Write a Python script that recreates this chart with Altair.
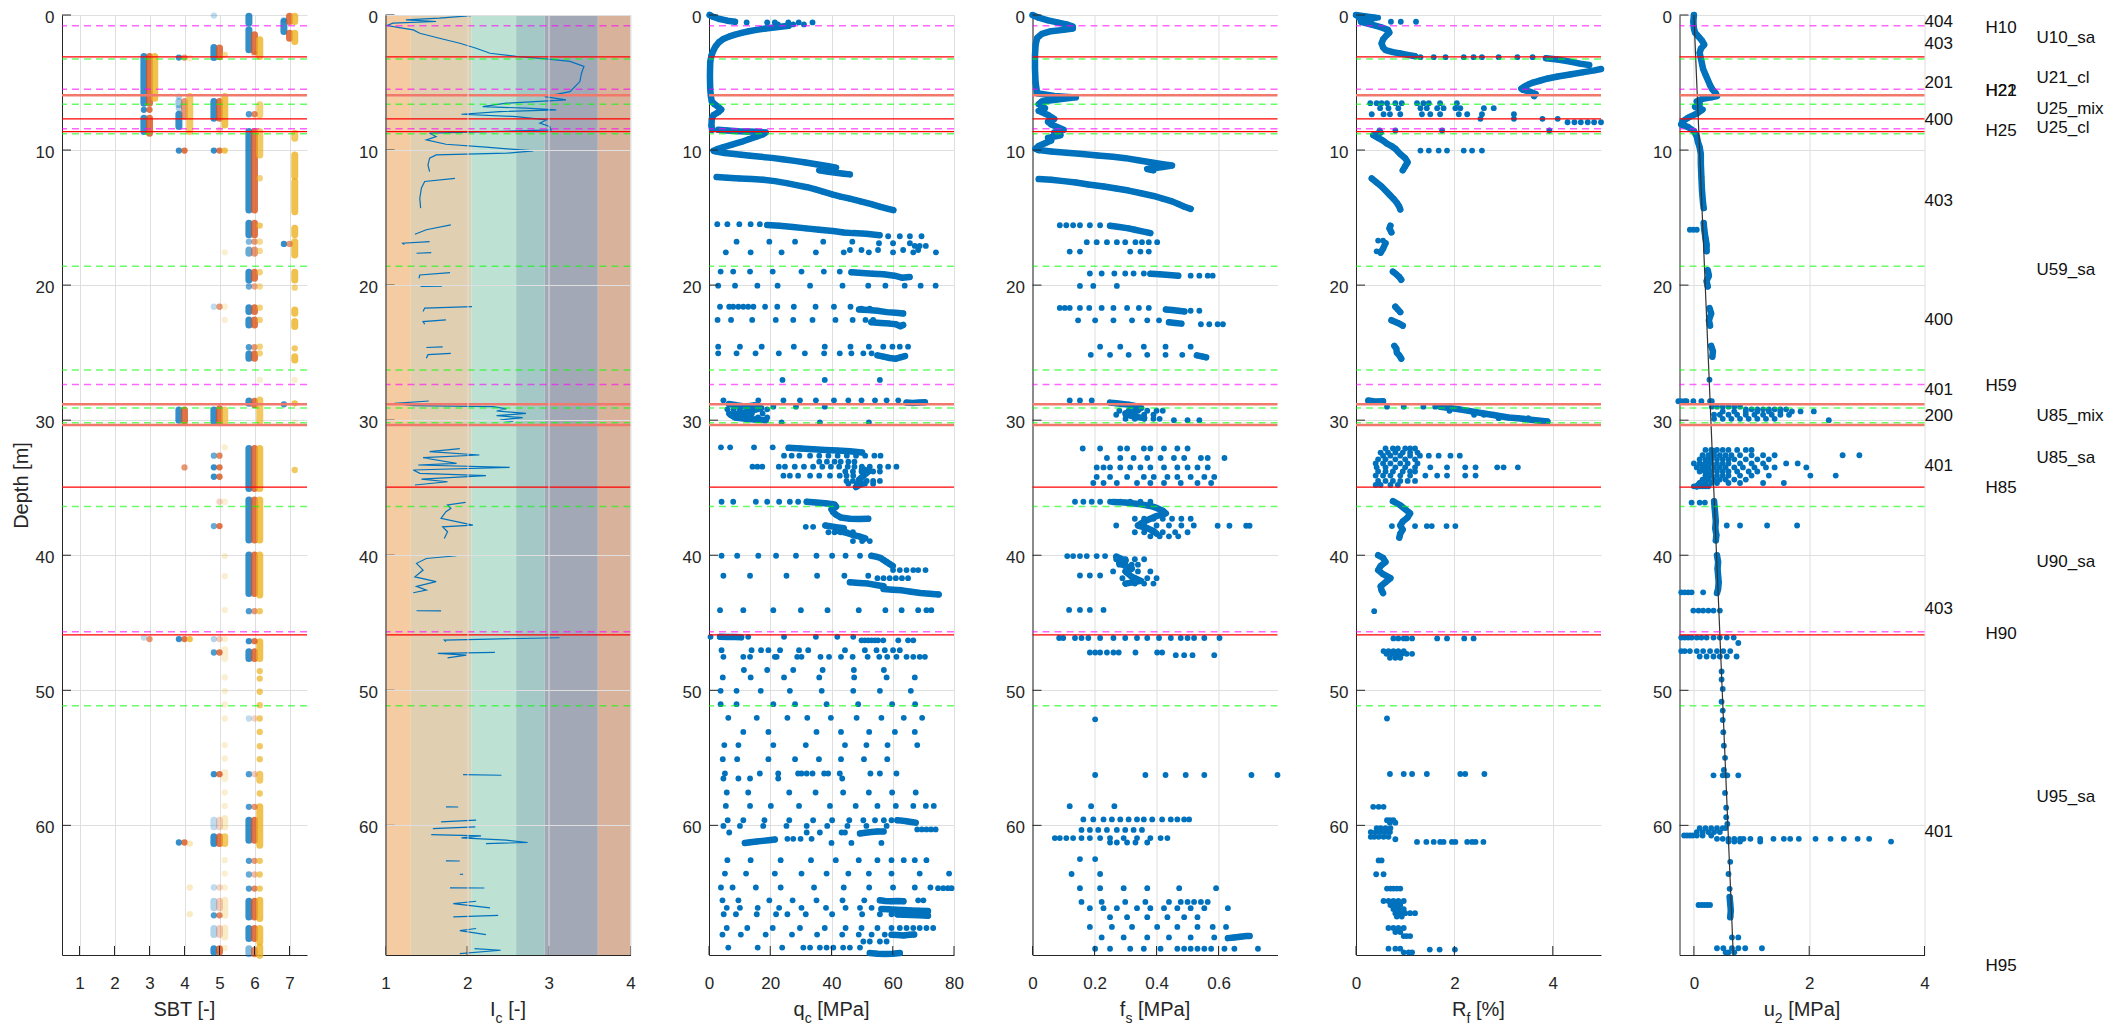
import altair as alt
import pandas as pd

FONT = "Liberation Sans"
TXT = "#262626"
GRID = "#dfdfdf"
BLUE = "#0072BD"
W, H = 245, 940
DMAX = 69.6

depth_ticks = [0, 10, 20, 30, 40, 50, 60]

# ---------------- boundary depths ----------------
magenta_depths = [0.8, 5.5, 8.43, 27.35, 45.67]
red_depths = [3.1, 7.69, 8.63, 34.95, 45.9]
salmon_depths = [5.94, 28.83, 30.36]
green_depths = [3.25, 6.6, 8.8, 18.6, 26.28, 29.1, 30.2, 36.4, 51.15]

# ---------------- SBT (sbt, top, bottom, alpha) ----------------
sbt_blue = [
    (5, 0.04, 0.04, 0.25), (6, 0.1, 0.6, 0.8), (6, 1.1, 2.58, 0.8), (7, 0.36, 0.36, 0.25), (7, 0.48, 1.22, 0.8),
    (3, 3.07, 6.53, 0.8), (3, 7.02, 7.02, 0.8), (3, 7.64, 8.63, 0.8),
    (4, 3.15, 3.15, 0.8), (4, 6.04, 6.04, 0.3), (4, 6.4, 6.65, 0.4), (4, 6.9, 6.9, 0.3), (4, 7.35, 8.26, 0.8), (4, 10.04, 10.04, 0.8),
    (5, 2.41, 3.15, 0.8), (5, 6.41, 7.64, 0.8), (5, 10.04, 10.04, 0.8), (5, 21.6, 21.6, 0.25), (5, 29.25, 30.1, 0.8),
    (5, 32.63, 32.63, 0.6), (5, 33.49, 33.49, 0.8), (5, 34.19, 34.19, 0.8), (4, 29.25, 30.0, 0.8),
    (6, 7.35, 7.35, 0.7), (6, 8.63, 14.43, 0.8), (6, 15.42, 16.28, 0.8), (6, 16.78, 16.78, 0.5), (6, 17.4, 17.64, 0.6),
    (6, 19.05, 19.62, 0.8), (6, 20.1, 20.1, 0.6), (6, 21.67, 21.96, 0.8), (6, 22.58, 22.95, 0.8), (6, 24.6, 24.6, 0.7),
    (6, 25.1, 25.42, 0.8), (6, 28.58, 28.75, 0.8), (6, 32.09, 35.05, 0.8), (6, 35.91, 38.88, 0.8),
    (7, 16.95, 16.95, 0.8), (7, 28.83, 28.83, 0.8),
    (6, 39.99, 42.83, 0.8), (6, 44.14, 44.14, 0.7), (6, 46.36, 46.36, 0.8), (6, 47.15, 47.64, 0.8), (6, 52.09, 52.09, 0.25),
    (6, 56.21, 56.21, 0.7), (6, 58.63, 58.63, 0.7), (6, 59.62, 61.1, 0.8), (6, 62.63, 62.63, 0.7), (6, 63.64, 63.64, 0.6),
    (6, 64.68, 64.68, 0.7), (6, 65.62, 66.78, 0.8), (6, 67.64, 68.38, 0.8), (6, 69.13, 69.5, 0.5),
    (5, 37.84, 37.84, 0.6), (5, 46.21, 46.21, 0.3), (5, 47.2, 47.2, 0.7), (5, 56.21, 56.21, 0.8), (5, 59.62, 60.11, 0.25),
    (5, 60.85, 61.35, 0.8), (5, 64.6, 64.6, 0.25), (5, 65.62, 66.11, 0.3), (5, 66.66, 66.66, 0.7), (5, 67.64, 68.09, 0.3),
    (5, 69.13, 69.37, 0.8), (4, 46.21, 46.21, 0.8), (4, 61.27, 61.27, 0.8), (3, 46.09, 46.09, 0.25),
]
sbt_red = [
    (7, 0.1, 0.48, 0.8), (7, 1.35, 1.72, 0.8), (6, 1.47, 2.7, 0.8), (6, 2.9, 2.9, 0.25),
    (3, 3.07, 6.53, 0.8), (3, 7.02, 7.02, 0.8), (3, 7.64, 8.75, 0.8),
    (4, 3.15, 3.15, 0.6), (4, 6.4, 7.5, 0.6), (4, 10.04, 10.04, 0.8), (4, 29.25, 30.1, 0.8), (4, 33.5, 33.5, 0.6),
    (5, 2.45, 3.1, 0.8), (5, 6.41, 7.64, 0.8), (5, 8.5, 8.5, 0.25), (5, 10.04, 10.04, 0.8), (5, 21.6, 21.6, 0.6),
    (5, 29.15, 30.2, 0.8), (5, 32.63, 32.63, 0.7), (5, 33.49, 33.49, 0.8), (5, 34.19, 34.19, 0.8), (5, 36.04, 36.04, 0.25),
    (6, 7.35, 7.35, 0.7), (6, 8.63, 14.43, 0.8), (6, 15.42, 16.28, 0.8), (6, 16.78, 16.78, 0.6), (6, 17.4, 17.64, 0.6),
    (6, 19.05, 19.5, 0.8), (6, 20.1, 20.1, 0.5), (6, 21.67, 21.96, 0.8), (6, 22.58, 22.95, 0.8), (6, 24.6, 24.6, 0.6),
    (6, 25.1, 25.42, 0.8), (6, 28.6, 28.85, 0.8), (6, 32.09, 35.05, 0.8), (6, 35.91, 38.88, 0.8), (7, 16.95, 16.95, 0.6),
    (6, 39.99, 42.83, 0.8), (6, 44.14, 44.14, 0.6), (6, 46.36, 46.36, 0.8), (6, 47.15, 47.64, 0.8), (6, 52.09, 52.09, 0.25),
    (6, 56.21, 56.21, 0.3), (6, 58.63, 58.63, 0.6), (6, 59.62, 61.1, 0.8), (6, 62.63, 62.63, 0.6), (6, 63.64, 63.64, 0.4),
    (6, 64.68, 64.68, 0.7), (6, 65.62, 66.78, 0.8), (6, 67.64, 68.38, 0.8), (6, 69.25, 69.5, 0.7),
    (5, 37.84, 37.84, 0.8), (5, 46.21, 46.21, 0.3), (5, 47.2, 47.2, 0.8), (5, 56.21, 56.21, 0.8), (5, 59.62, 60.11, 0.25),
    (5, 60.85, 61.35, 0.8), (5, 64.6, 64.6, 0.25), (5, 65.62, 66.11, 0.3), (5, 66.66, 66.66, 0.7), (5, 67.64, 68.09, 0.3),
    (5, 69.13, 69.37, 0.8), (4, 46.21, 46.21, 0.8), (4, 61.27, 61.27, 0.8), (3, 46.21, 46.21, 0.6),
]
sbt_yellow = [
    (7, 0.1, 0.48, 0.8), (7, 1.35, 1.96, 0.8), (6, 1.84, 3.07, 0.8), (3, 3.07, 6.16, 0.8),
    (4, 3.2, 3.2, 0.25), (4, 6.04, 8.63, 0.7),
    (5, 2.95, 2.95, 0.5), (5, 6.04, 8.14, 0.8), (5, 10.04, 10.04, 0.8), (5, 17.57, 17.57, 0.2), (5, 21.6, 21.6, 0.2),
    (5, 22.58, 22.58, 0.2), (5, 29.25, 30.1, 0.7), (5, 32.01, 32.01, 0.2), (5, 36.04, 36.04, 0.2),
    (6, 6.65, 7.4, 0.6), (6, 8.63, 10.36, 0.7), (6, 12.09, 12.09, 0.6), (6, 15.59, 15.59, 0.7), (6, 16.78, 16.78, 0.5),
    (6, 17.47, 17.47, 0.5), (6, 19.05, 19.05, 0.6), (6, 20.1, 20.1, 0.5), (6, 21.67, 21.67, 0.6), (6, 22.58, 22.58, 0.6),
    (6, 24.56, 24.56, 0.6), (6, 25.05, 25.05, 0.6), (6, 27.02, 27.02, 0.2), (6, 28.5, 30.1, 0.7), (6, 32.09, 35.05, 0.8),
    (6, 35.91, 38.88, 0.8),
    (7, 8.75, 9.12, 0.7), (7, 10.36, 11.96, 0.8), (7, 12.33, 14.56, 0.8), (7, 15.79, 16.28, 0.8), (7, 16.78, 17.77, 0.8),
    (7, 19.05, 19.62, 0.8), (7, 20.19, 20.19, 0.6), (7, 21.84, 22.09, 0.8), (7, 22.7, 23.07, 0.8), (7, 24.68, 24.68, 0.7),
    (7, 25.3, 25.54, 0.8), (7, 27.02, 27.02, 0.2), (7, 28.75, 28.75, 0.8), (7, 30.16, 30.16, 0.2), (7, 33.69, 33.69, 0.7),
    (6, 39.99, 42.95, 0.8), (6, 44.14, 44.14, 0.7), (6, 46.41, 47.64, 0.8), (6, 48.58, 48.58, 0.7), (6, 49.13, 49.13, 0.7),
    (6, 50.11, 50.11, 0.7), (6, 51.1, 51.1, 0.7), (6, 52.09, 52.09, 0.7), (6, 53.08, 53.08, 0.7), (6, 54.14, 54.14, 0.7),
    (6, 55.1, 55.1, 0.7), (6, 56.21, 56.66, 0.7), (6, 57.64, 57.64, 0.7), (6, 58.63, 61.47, 0.8), (6, 62.63, 62.63, 0.7),
    (6, 63.64, 63.64, 0.7), (6, 64.68, 64.68, 0.7), (6, 65.54, 66.9, 0.8), (6, 67.64, 68.63, 0.8), (6, 69.0, 69.62, 0.8),
    (5, 40.06, 40.06, 0.2), (5, 41.55, 41.55, 0.2), (5, 44.06, 44.06, 0.2), (5, 46.21, 46.21, 0.2), (5, 47.0, 47.64, 0.2),
    (5, 49.05, 49.05, 0.2), (5, 50.06, 50.06, 0.2), (5, 51.05, 51.05, 0.2), (5, 52.09, 52.09, 0.2), (5, 54.06, 54.06, 0.2),
    (5, 55.05, 55.05, 0.2), (5, 56.09, 56.53, 0.2), (5, 57.57, 57.57, 0.2), (5, 58.56, 58.56, 0.2), (5, 59.5, 60.11, 0.25),
    (5, 60.85, 61.35, 0.7), (5, 62.58, 62.58, 0.2), (5, 63.57, 63.57, 0.2), (5, 64.6, 64.6, 0.2), (5, 65.54, 66.66, 0.25),
    (5, 67.6, 68.26, 0.25), (5, 69.08, 69.08, 0.2),
    (4, 46.21, 46.21, 0.8), (4, 61.35, 61.35, 0.3), (4, 64.6, 64.6, 0.25), (4, 66.58, 66.58, 0.25),
]

# ---------------- Ic bands and profile ----------------
ic_band_lo = [1.0, 1.31, 2.05, 2.6, 2.95, 3.6]
ic_band_hi = [1.31, 2.05, 2.6, 2.95, 3.6, 4.0]
ic_band_col = ["#f5cba2", "#e0cfb1", "#bde2d3", "#a3c8c5", "#a3a8b7", "#d9b29b"]

ic_segs = [
    [(0.04, 2.05), (0.23, 1.66), (0.36, 1.25), (0.48, 1.62), (0.6, 1.09), (0.78, 1.02), (0.93, 1.17), (1.1, 1.34),
     (1.35, 1.42), (1.72, 1.66), (2.09, 1.91), (2.46, 2.11), (2.83, 2.28), (3.07, 2.6), (3.25, 2.97), (3.44, 3.26),
     (3.81, 3.43), (4.31, 3.4), (4.93, 3.38), (5.67, 3.26), (6.04, 2.95), (6.28, 3.21), (6.53, 2.48), (6.78, 2.19),
     (6.9, 2.72), (7.02, 3.09), (7.15, 2.4), (7.35, 1.93), (7.52, 2.6), (7.77, 2.97), (8.01, 2.89), (8.26, 3.01),
     (8.51, 3.03), (8.75, 1.54), (9.0, 1.62), (9.25, 1.5), (9.57, 1.74), (9.79, 2.23), (10.06, 2.81), (10.23, 2.48),
     (10.36, 1.62), (10.6, 1.54), (11.1, 1.52), (11.6, 1.54)],
    [(12.1, 1.85), (12.33, 1.48), (12.8, 1.44), (13.57, 1.42), (14.3, 1.43)],
    [(15.54, 1.8), (15.9, 1.5), (16.23, 1.36)],
    [(16.78, 1.54), (16.9, 1.21), (17.0, 1.23)],
    [(17.6, 1.56), (17.64, 1.38)],
    [(19.07, 1.79), (19.25, 1.42), (19.5, 1.41)],
    [(20.08, 1.69), (20.1, 1.43)],
    [(21.6, 2.06), (21.7, 1.48), (21.96, 1.46)],
    [(22.58, 1.74), (22.7, 1.46), (22.9, 1.48)],
    [(24.58, 1.7), (24.62, 1.5)],
    [(25.05, 1.8), (25.15, 1.52), (25.42, 1.5)],
    [(28.58, 1.53), (28.75, 1.11), (28.93, 1.34), (29.0, 2.32), (29.17, 2.48), (29.32, 2.36), (29.5, 2.72),
     (29.67, 2.36), (29.81, 2.68), (29.99, 2.4), (30.1, 2.56)],
    [(32.1, 1.91), (32.33, 1.54), (32.58, 2.15), (32.78, 1.46), (33.2, 1.87), (33.32, 1.4), (33.5, 2.52),
     (33.69, 1.34), (33.94, 1.42), (34.1, 2.23), (34.36, 1.44), (34.56, 1.76), (34.8, 1.36)],
    [(36.09, 1.98), (36.28, 1.76), (36.53, 1.8), (36.78, 1.74), (37.27, 1.68), (37.77, 2.07), (37.9, 1.7),
     (38.26, 1.76), (38.76, 1.72)],
    [(40.04, 1.87), (40.24, 1.5), (40.6, 1.38), (41.1, 1.46), (41.6, 1.36), (41.96, 1.62), (42.3, 1.38),
     (42.58, 1.5), (42.78, 1.34)],
    [(44.11, 1.38), (44.12, 1.68)],
    [(46.11, 3.13), (46.21, 2.28), (46.29, 1.72), (46.4, 1.74)],
    [(47.2, 2.34), (47.27, 1.64), (47.4, 1.99), (47.6, 1.76)],
    [(56.24, 1.95), (56.29, 2.42)],
    [(58.63, 1.74), (58.64, 1.89)],
    [(59.62, 2.11), (59.74, 1.68)],
    [(60.11, 2.1), (60.24, 1.58)],
    [(60.68, 1.56), (60.78, 2.17), (60.93, 1.93), (61.1, 2.48), (61.27, 2.74), (61.35, 2.23)],
    [(62.63, 1.74), (62.64, 1.91)],
    [(63.62, 1.91), (63.63, 1.95)],
    [(64.63, 1.79), (64.64, 2.21)],
    [(65.62, 2.11), (65.79, 1.83), (66.11, 2.28)],
    [(66.66, 2.38), (66.78, 1.83)],
    [(67.64, 2.11), (67.8, 1.91), (68.09, 2.23)],
    [(69.13, 2.09), (69.25, 2.41), (69.5, 1.91)],
]

# ---------------- qc [MPa] ----------------
qc_curves = [
    [(0.0, 0.2), (0.15, 1.5), (0.3, 3.5), (0.42, 6.0), (0.5, 8.5)],
    [(0.8, 26.0), (0.9, 22.0), (1.0, 18.5), (1.1, 15.5), (1.2, 13.0), (1.3, 11.0), (1.45, 8.5), (1.6, 6.5), (1.8, 4.5),
     (2.0, 3.3), (2.3, 2.2), (2.6, 1.5), (3.0, 0.8), (3.5, 0.4), (4.5, 0.3), (5.5, 0.4), (6.0, 0.6), (6.4, 0.9),
     (6.6, 1.8), (6.8, 3.0), (7.0, 4.0), (7.2, 3.0), (7.4, 1.5), (7.7, 0.9), (8.2, 0.8), (8.5, 1.0)],
    [(8.5, 3.0), (8.55, 6.0), (8.6, 9.5), (8.62, 12.5), (8.65, 15.5), (8.7, 18.5), (8.85, 17.5), (9.0, 15.5),
     (9.2, 13.0), (9.4, 10.5), (9.6, 7.5), (9.8, 4.5), (9.95, 2.5), (10.05, 1.5)],
    [(10.1, 2.0), (10.22, 5.0), (10.28, 7.5), (10.35, 10.5), (10.42, 13.5), (10.5, 17.0), (10.58, 20.5), (10.68, 24.0),
     (10.8, 28.0), (10.92, 31.5), (11.05, 35.0), (11.2, 39.0), (11.3, 41.5), (11.4, 38.0), (11.5, 36.0), (11.6, 39.0),
     (11.75, 44.0), (11.8, 46.0)],
    [(12.0, 2.5), (12.05, 6.0), (12.1, 10.0), (12.15, 14.0), (12.2, 17.7), (12.3, 21.5), (12.45, 25.3), (12.6, 28.5),
     (12.75, 32.0), (12.9, 34.5), (13.1, 37.5), (13.3, 40.5), (13.45, 43.0), (13.6, 46.0), (13.8, 49.5), (14.0, 53.0),
     (14.2, 56.0), (14.35, 58.5), (14.45, 60.2)],
    [(15.55, 19.0), (15.6, 23.0), (15.7, 27.4), (15.8, 31.7), (15.9, 36.0), (16.0, 40.5), (16.1, 44.0), (16.15, 47.0),
     (16.2, 51.3), (16.3, 55.7)],
    [(19.05, 46.5), (19.1, 50.0), (19.15, 53.5), (19.2, 57.0), (19.3, 60.5), (19.45, 63.0), (19.4, 65.5)],
    [(21.8, 49.0), (21.85, 52.0), (21.9, 55.0), (22.0, 58.0), (22.05, 61.0), (22.1, 63.4)],
    [(22.75, 53.0), (22.8, 56.0), (22.85, 59.0), (22.9, 61.0), (23.05, 62.5), (22.95, 63.4)],
    [(25.2, 55.0), (25.3, 57.0), (25.4, 59.0), (25.45, 61.0), (25.35, 62.5), (25.25, 64.0)],
    [(28.7, 64.5), (28.72, 66.5), (28.7, 68.5), (28.68, 70.5)],
    [(28.8, 6.5), (28.9, 9.0), (29.0, 12.0), (28.9, 15.0), (29.1, 17.0), (29.3, 14.0), (29.5, 10.0), (29.6, 7.0),
     (29.8, 8.5), (29.9, 12.0), (29.95, 15.0), (30.0, 18.5)],
    [(32.05, 26.0), (32.1, 30.0), (32.15, 34.0), (32.2, 38.0), (32.25, 42.0), (32.3, 46.0), (32.4, 50.0)],
    [(33.6, 50.0), (33.8, 52.0), (34.1, 50.5), (34.4, 49.0), (34.7, 50.0), (34.95, 48.0)],
    [(36.04, 31.9), (36.1, 35.0), (36.15, 38.0), (36.25, 41.0), (36.4, 41.5), (36.6, 40.0), (36.8, 40.5), (37.0, 41.5),
     (37.2, 43.0), (37.3, 46.0), (37.32, 49.0), (37.3, 52.0)],
    [(37.8, 38.0), (37.9, 41.0), (38.0, 44.0), (38.2, 42.0), (38.35, 45.0), (38.5, 47.0), (38.6, 49.0), (38.75, 51.0)],
    [(40.04, 53.0), (40.1, 54.5), (40.2, 56.0), (40.35, 57.0), (40.5, 58.0), (40.65, 59.0), (40.8, 60.0)],
    [(42.0, 46.0), (42.05, 49.0), (42.1, 52.0), (42.2, 54.5), (42.3, 57.0)],
    [(42.5, 57.0), (42.55, 60.0), (42.6, 63.0), (42.7, 66.0), (42.8, 69.0), (42.85, 72.0), (42.9, 75.0)],
    [(46.04, 3.6), (46.05, 6.0), (46.06, 8.5), (46.08, 10.5)],
    [(59.62, 61.5), (59.65, 63.0), (59.7, 64.5), (59.75, 66.0), (59.8, 67.5)],
    [(60.6, 49.3), (60.55, 51.0), (60.5, 53.0), (60.45, 55.0), (60.45, 57.0)],
    [(61.3, 11.7), (61.25, 13.5), (61.2, 15.5), (61.15, 17.5), (61.1, 19.5), (61.05, 21.5)],
    [(65.55, 55.8), (65.6, 57.5), (65.62, 59.5), (65.6, 61.5), (65.62, 63.5)],
    [(66.2, 56.3), (66.22, 58.5), (66.25, 61.0), (66.27, 63.5), (66.3, 66.0), (66.32, 68.5), (66.35, 71.5)],
    [(66.6, 61.5), (66.62, 63.5), (66.63, 66.0), (66.65, 68.5), (66.7, 71.5)],
    [(68.1, 59.6), (68.12, 61.5), (68.15, 63.5), (68.1, 65.5), (68.08, 67.0)],
    [(69.45, 52.5), (69.5, 55.0), (69.52, 57.5), (69.5, 60.0), (69.45, 62.3)],
]
qc_rows = [
    (0.55, [12.3, 19.0, 21.5, 25.9, 29.3, 33.8]), (0.7, [22.5, 27.5, 31.0]),
    (15.49, [2.7, 6.0, 9.9, 13.6, 16.6]), (16.38, [58.5, 62.3, 65.6, 69.4]),
    (16.78, [9.0, 19.7, 28.1, 37.3, 46.8]), (16.9, [55.5, 60.1, 65.6]), (17.1, [67.2, 68.8, 70.8]),
    (17.4, [46.0, 49.8, 55.2, 63.4, 68.3]), (17.57, [5.5, 13.6, 23.7, 34.9, 44.0, 52.2, 60.1, 66.7, 74.1]),
    (19.0, [3.8, 7.9, 13.4, 20.8, 30.2, 37.5, 42.7]),
    (20.04, [3.0, 8.5, 15.8, 22.4, 33.0, 43.6, 52.0, 57.6, 63.9, 69.1, 74.0]),
    (21.6, [3.6, 6.6, 7.9, 9.6, 11.2, 12.8, 14.5, 18.3, 22.3, 27.7, 34.8, 40.8, 46.2]), (21.75, [49.8, 52.5]),
    (22.58, [2.8, 7.2, 14.1, 21.8, 27.5, 33.8, 41.3, 46.9, 51.1, 53.6]),
    (24.56, [3.0, 10.1, 17.2, 27.7, 37.8, 46.2, 52.2, 56.9, 59.9, 62.3, 65.0]),
    (25.05, [3.0, 9.0, 15.2, 22.8, 31.3, 37.6, 42.7, 46.5, 50.4, 53.1]),
    (27.02, [24.0, 37.8, 55.8]),
    (28.53, [4.7, 16.1, 24.3, 29.7, 34.9, 40.8, 45.5, 49.8, 54.2, 58.0, 61.8]),
    (29.0, [21.0, 28.4, 37.8]), (30.16, [23.7, 36.2, 52.2]),
    (29.2, [6.0, 8.0, 10.0, 19.0]), (29.5, [6.5, 12.0, 14.0, 17.5]), (29.8, [10.0, 13.0, 16.0, 19.0]),
    (32.01, [3.9, 6.9, 14.7, 20.8]),
    (32.63, [24.5, 27.0, 29.5, 33.0, 36.0, 39.0, 42.0, 45.0, 48.0, 51.0, 54.0, 56.0]),
    (33.07, [36.0, 38.5, 41.0, 43.0, 45.5, 47.5]),
    (33.44, [14.2, 15.8, 17.4, 22.8, 24.8, 28.0, 31.0, 34.0, 37.0, 39.8, 42.5, 45.3, 47.5, 49.9, 52.5, 55.8, 58.5, 61.2]),
    (33.8, [44.5, 47.0, 49.8, 52.0, 53.6, 55.8]),
    (34.11, [24.3, 26.4, 29.1, 33.0, 36.0, 39.5, 42.7, 44.9, 47.1]),
    (34.5, [44.9, 47.0, 49.3, 51.5, 53.6, 55.8]), (34.7, [45.5, 48.3, 50.9, 53.6]),
    (36.04, [4.1, 7.9, 15.3, 19.0, 22.9, 26.4, 29.1]),
    (37.9, [31.6, 34.0]), (38.3, [39.0, 41.0, 43.0, 45.0, 47.0]), (38.95, [47.0, 50.0, 52.5]),
    (40.04, [4.1, 9.2, 16.1, 21.9, 28.4, 35.1, 40.2, 44.6, 49.3]),
    (41.1, [60.1, 62.3, 64.5, 66.7, 68.3, 70.7]),
    (41.52, [4.7, 13.4, 25.3, 35.3, 44.2, 52.0]), (41.7, [55.0, 57.0, 59.0, 61.0, 63.0, 65.0]),
    (44.07, [3.6, 11.2, 21.0, 30.0, 38.7, 48.9, 57.6, 62.9, 68.3, 71.0, 72.6]),
    (46.04, [0.5, 12.8, 24.5, 34.9, 41.9, 47.1]),
    (46.3, [49.8, 50.9, 52.0, 53.1, 54.2, 55.2, 56.9, 61.8, 65.0, 66.7]),
    (47.03, [4.1, 13.9, 17.0, 19.4, 23.2, 29.4, 32.4, 44.4, 50.9, 54.7, 57.4, 60.1, 62.3]),
    (47.52, [4.7, 11.2, 13.4, 21.5, 22.1, 28.8, 30.2, 36.4, 39.2, 43.1, 46.9, 51.8, 55.6, 58.2, 61.2, 64.5, 66.7,
             68.8, 70.5]),
    (48.5, [11.4, 19.0, 27.5, 37.1, 47.3, 57.1]),
    (49.05, [4.5, 13.6, 24.5, 36.0, 47.4, 58.0, 67.2]),
    (50.04, [3.8, 9.0, 16.9, 26.4, 36.8, 47.1, 55.8, 65.9]),
    (51.03, [3.8, 9.0, 21.0, 28.1, 38.4, 48.7, 59.8, 67.3]),
    (52.04, [6.3, 15.6, 25.6, 32.1, 39.8, 48.2, 56.3, 63.6, 69.6]),
    (53.08, [11.2, 19.4, 35.1, 43.1, 52.3, 60.7, 67.2]),
    (54.06, [5.0, 9.6, 21.0, 31.6, 44.4, 51.4, 58.3, 68.0]),
    (55.1, [4.5, 9.2, 19.4, 28.1, 35.9, 43.1, 50.6, 58.2]),
    (56.16, [5.2, 16.6, 22.6, 29.1, 30.2, 31.9, 33.8, 37.6, 38.9, 42.7, 52.7, 55.8, 61.2]),
    (56.53, [4.7, 9.6, 13.4, 22.6, 43.5]),
    (57.57, [5.8, 12.8, 26.2, 34.8, 43.8, 52.2, 59.8, 67.5]),
    (58.56, [5.5, 13.4, 20.2, 29.4, 39.5, 47.9, 55.0, 61.0, 66.7, 70.8, 73.4]),
    (59.62, [6.1, 11.2, 18.1, 26.2, 34.0, 40.2, 45.8, 50.4, 54.2, 57.1, 59.6]),
    (60.04, [4.7, 10.1, 17.7, 25.3, 31.9, 38.6, 45.2, 51.4, 58.0]), (60.3, [68.0, 69.5, 71.0, 72.5, 74.0]),
    (60.53, [6.6, 31.9, 36.2, 43.3, 44.4]), (61.0, [25.6, 27.5, 29.9, 33.5]), (61.3, [40.0, 46.5, 56.3]),
    (62.58, [6.0, 13.6, 23.4, 33.3, 41.4, 48.9, 55.0, 59.6, 63.6, 67.2, 71.0]),
    (63.57, [5.2, 12.1, 21.5, 30.2, 38.4, 45.5, 52.2, 59.6, 68.8, 78.4]),
    (64.6, [3.9, 7.7, 15.3, 23.4, 34.3, 44.0, 52.3, 60.1, 67.2, 72.3]), (64.65, [74.8, 76.5, 78.0, 79.2]),
    (65.55, [4.4, 9.6, 19.7, 27.3, 35.1, 43.6, 50.7, 68.3, 70.0]),
    (66.11, [5.8, 10.1, 15.9, 22.9, 30.2, 38.2, 44.6, 49.3, 53.1]),
    (66.58, [4.8, 8.8, 15.6, 21.9, 25.6, 31.6, 40.2, 50.0, 55.8, 59.6]),
    (67.6, [5.8, 12.5, 20.8, 29.7, 37.8, 44.6, 49.8, 55.0, 59.6, 62.3, 64.5, 66.7, 68.8, 71.0, 73.2]),
    (68.09, [4.4, 10.4, 18.5, 27.1, 35.3, 43.5, 48.9, 53.1, 57.4]), (68.6, [50.4, 52.5, 55.8, 58.0]),
    (69.05, [6.3, 15.9, 23.9, 30.8, 33.0, 36.2, 38.4, 40.6, 43.8, 46.0, 49.3]),
]

# ---------------- fs [MPa] ----------------
fs_curves = [
    [(0.0, 0.0), (0.2, 0.02), (0.4, 0.05), (0.55, 0.08), (0.7, 0.11), (0.85, 0.13), (1.0, 0.13), (1.1, 0.1), (1.2, 0.06),
     (1.4, 0.03), (1.7, 0.015), (2.2, 0.01), (3.0, 0.008), (4.0, 0.008), (5.0, 0.01), (5.8, 0.015), (6.0, 0.07),
     (6.1, 0.14), (6.25, 0.08), (6.4, 0.03), (6.6, 0.02), (6.9, 0.04), (7.1, 0.02), (7.4, 0.05), (7.7, 0.07),
     (7.9, 0.05), (8.1, 0.06), (8.3, 0.08), (8.5, 0.1), (8.7, 0.07), (8.9, 0.09), (9.1, 0.05), (9.3, 0.06),
     (9.5, 0.04), (9.7, 0.02), (9.9, 0.01), (10.0, 0.02)],
    [(10.0, 0.02), (10.1, 0.06), (10.2, 0.11), (10.3, 0.16), (10.4, 0.21), (10.5, 0.26), (10.6, 0.3), (10.75, 0.34),
     (10.9, 0.38), (11.05, 0.42), (11.15, 0.45), (11.25, 0.42), (11.4, 0.37), (11.5, 0.39)],
    [(12.15, 0.02), (12.2, 0.06), (12.3, 0.1), (12.4, 0.14), (12.55, 0.18), (12.7, 0.23), (12.85, 0.27), (13.0, 0.31),
     (13.2, 0.35), (13.4, 0.39), (13.6, 0.42), (13.8, 0.45), (14.0, 0.47), (14.2, 0.49), (14.35, 0.51)],
    [(15.6, 0.25), (15.7, 0.28), (15.8, 0.31), (15.9, 0.33), (16.0, 0.35), (16.1, 0.37), (16.15, 0.38)],
    [(19.15, 0.38), (19.2, 0.41), (19.25, 0.44), (19.3, 0.47)],
    [(21.8, 0.43), (21.85, 0.45), (21.9, 0.47), (21.95, 0.49)],
    [(22.75, 0.44), (22.8, 0.46), (22.85, 0.48)],
    [(25.2, 0.53), (25.3, 0.55), (25.35, 0.56)],
    [(28.7, 0.25), (28.75, 0.27), (28.8, 0.29), (28.85, 0.31), (28.95, 0.33), (29.1, 0.35), (29.3, 0.33), (29.5, 0.3),
     (29.7, 0.32), (29.85, 0.36)],
    [(36.05, 0.26), (36.1, 0.3), (36.2, 0.34), (36.35, 0.38), (36.5, 0.4), (36.7, 0.42), (36.9, 0.43), (37.1, 0.4),
     (37.3, 0.38), (37.5, 0.36), (37.8, 0.34), (38.0, 0.37), (38.2, 0.39), (38.4, 0.4)],
    [(40.1, 0.27), (40.2, 0.28), (40.4, 0.3), (40.6, 0.28), (40.8, 0.3), (41.0, 0.32), (41.2, 0.3), (41.6, 0.32),
     (41.9, 0.35), (42.1, 0.3)],
    [(68.35, 0.63), (68.3, 0.65), (68.25, 0.67), (68.2, 0.69), (68.2, 0.7)],
]
fs_rows = [
    (15.57, [0.088, 0.109, 0.131, 0.153, 0.185, 0.218]),
    (16.82, [0.175, 0.207, 0.24, 0.272, 0.299, 0.332, 0.353, 0.375, 0.402]),
    (17.52, [0.12, 0.153, 0.315, 0.348, 0.375]),
    (19.14, [0.185, 0.223, 0.264, 0.299, 0.326, 0.359]), (19.3, [0.51, 0.538, 0.565, 0.581]),
    (20.06, [0.153, 0.196, 0.272]),
    (21.69, [0.088, 0.104, 0.12, 0.153, 0.183, 0.223, 0.261, 0.305, 0.343, 0.375]), (21.9, [0.51, 0.538]),
    (22.61, [0.147, 0.202, 0.261, 0.321, 0.37, 0.408]), (22.9, [0.543, 0.57, 0.597, 0.614]),
    (24.56, [0.218, 0.283, 0.359, 0.429, 0.51]),
    (25.16, [0.188, 0.25, 0.31, 0.37, 0.429, 0.483]),
    (28.54, [0.12, 0.153, 0.191]),
    (29.3, [0.28, 0.31, 0.34, 0.37, 0.4, 0.42]), (29.6, [0.27, 0.3, 0.33, 0.36, 0.39]),
    (29.9, [0.3, 0.33, 0.36, 0.39, 0.41]), (30.0, [0.456, 0.5, 0.538]),
    (32.1, [0.162, 0.218, 0.283, 0.305, 0.359, 0.38, 0.424, 0.467, 0.5]),
    (32.8, [0.24, 0.283, 0.326, 0.37, 0.413, 0.456, 0.489, 0.543, 0.565, 0.619]),
    (33.5, [0.207, 0.229, 0.25, 0.283, 0.315, 0.348, 0.38, 0.424, 0.467, 0.5, 0.532, 0.565]),
    (34.2, [0.207, 0.25, 0.305, 0.359, 0.391, 0.435, 0.467, 0.51, 0.554, 0.586]),
    (34.65, [0.196, 0.229, 0.272, 0.337, 0.38, 0.424, 0.478, 0.532, 0.576]),
    (36.04, [0.137, 0.164, 0.191, 0.218, 0.25, 0.283, 0.315, 0.348, 0.38]),
    (37.3, [0.33, 0.36, 0.39, 0.42, 0.45, 0.48, 0.51]), (37.8, [0.27, 0.36, 0.4, 0.44, 0.48, 0.52]),
    (38.3, [0.33, 0.36, 0.39, 0.42, 0.46, 0.5]), (38.6, [0.38, 0.41, 0.44, 0.47]),
    (37.82, [0.597, 0.635, 0.689, 0.7]),
    (40.06, [0.112, 0.131, 0.153, 0.175, 0.207, 0.234]),
    (40.3, [0.27, 0.3, 0.33, 0.36]), (40.7, [0.28, 0.3, 0.32, 0.34]), (41.2, [0.26, 0.3, 0.34, 0.38]),
    (41.7, [0.29, 0.33, 0.37, 0.4]), (42.1, [0.3, 0.33, 0.36, 0.39]), (41.5, [0.153, 0.185, 0.218]),
    (44.05, [0.118, 0.153, 0.185, 0.229]),
    (46.13, [0.086, 0.099, 0.137, 0.158, 0.18, 0.218, 0.261, 0.299, 0.337, 0.37, 0.408, 0.446, 0.478, 0.5, 0.521,
             0.554, 0.603]),
    (47.2, [0.185, 0.202, 0.218, 0.24, 0.261, 0.278, 0.332, 0.402, 0.418]), (47.4, [0.462, 0.489, 0.516, 0.586]),
    (52.15, [0.202]),
    (56.27, [0.202, 0.364, 0.429, 0.494, 0.554, 0.706, 0.79]),
    (58.58, [0.12, 0.189, 0.264]),
    (59.56, [0.164, 0.196, 0.229, 0.256, 0.283, 0.31, 0.337, 0.359, 0.386, 0.418, 0.446, 0.467, 0.489, 0.505]),
    (60.34, [0.158, 0.185, 0.212, 0.24, 0.272, 0.299, 0.326, 0.353]),
    (60.94, [0.072, 0.088, 0.109, 0.131, 0.158, 0.185, 0.218, 0.25, 0.294, 0.337, 0.38, 0.413, 0.435]),
    (61.27, [0.25, 0.272, 0.305, 0.332, 0.37]),
    (62.5, [0.153, 0.202]), (63.6, [0.126, 0.218]),
    (64.65, [0.153, 0.218, 0.294, 0.37, 0.473, 0.592]),
    (65.67, [0.158, 0.223, 0.299, 0.364, 0.44, 0.478, 0.5, 0.521, 0.543, 0.565]),
    (66.13, [0.185, 0.229, 0.272, 0.337, 0.38, 0.424, 0.467, 0.51, 0.554, 0.63]),
    (66.8, [0.25, 0.305, 0.37, 0.435, 0.489, 0.532]),
    (67.52, [0.185, 0.256, 0.321, 0.402, 0.467, 0.532, 0.581, 0.624]),
    (68.3, [0.223, 0.294, 0.37, 0.44, 0.51, 0.586]),
    (69.14, [0.202, 0.25, 0.315, 0.359, 0.413, 0.467, 0.489, 0.51, 0.532, 0.554, 0.576, 0.619, 0.651, 0.727]),
]

# ---------------- Rf [%] ----------------
rf_curves = [
    [(0.0, 0.0), (0.1, 0.2), (0.2, 0.4), (0.3, 0.3), (0.5, 0.1), (0.7, 0.3), (0.9, 0.5), (1.1, 0.65), (1.3, 0.68),
     (1.5, 0.62), (1.8, 0.55), (2.1, 0.52), (2.4, 0.55), (2.6, 0.6), (2.75, 0.75), (2.85, 0.9), (2.95, 1.05),
     (3.05, 1.2)],
    [(3.2, 3.86), (3.3, 4.1), (3.45, 4.35), (3.6, 4.55), (3.7, 4.74)],
    [(4.0, 4.98), (4.1, 4.85), (4.25, 4.6), (4.4, 4.35), (4.55, 4.1), (4.7, 3.9), (4.85, 3.75), (5.0, 3.6),
     (5.15, 3.5), (5.3, 3.42), (5.45, 3.36), (5.55, 3.4), (5.7, 3.55), (5.85, 3.65), (6.0, 3.62)],
    [(8.7, 0.5), (8.9, 0.35), (9.1, 0.45), (9.3, 0.55), (9.5, 0.62), (9.7, 0.72), (9.9, 0.8), (10.1, 0.85),
     (10.3, 0.9), (10.6, 1.0), (10.9, 1.05), (11.2, 1.0), (11.5, 0.95)],
    [(12.1, 0.32), (12.4, 0.42), (12.7, 0.52), (13.0, 0.6), (13.3, 0.68), (13.6, 0.76), (13.9, 0.83), (14.2, 0.88),
     (14.4, 0.9)],
    [(15.6, 0.7), (15.8, 0.68), (16.1, 0.72)],
    [(16.9, 0.6), (17.3, 0.55), (17.6, 0.5)],
    [(19.0, 0.75), (19.2, 0.82), (19.4, 0.88), (19.6, 0.92)],
    [(21.6, 0.8), (21.8, 0.85), (22.0, 0.9)],
    [(22.6, 0.72), (22.8, 0.85), (23.0, 0.95)],
    [(24.5, 0.78), (24.7, 0.82), (25.0, 0.83), (25.2, 0.88), (25.45, 0.92)],
    [(28.55, 0.25), (28.6, 0.35), (28.62, 0.45), (28.6, 0.55)],
    [(29.0, 1.71), (29.1, 1.9), (29.2, 2.1), (29.35, 2.35), (29.5, 2.6), (29.65, 2.85), (29.8, 3.1), (29.9, 3.4),
     (30.0, 3.65), (30.1, 3.89)],
    [(36.0, 0.75), (36.3, 0.9), (36.6, 1.0), (36.9, 1.1), (37.2, 1.05), (37.5, 0.95), (37.8, 0.9), (38.1, 0.95),
     (38.4, 0.9), (38.7, 0.88)],
    [(40.0, 0.45), (40.2, 0.55), (40.5, 0.6), (40.8, 0.5), (41.1, 0.45), (41.4, 0.55), (41.7, 0.7), (42.0, 0.6),
     (42.3, 0.5), (42.6, 0.52), (42.8, 0.55)],
]
rf_rows = [
    (0.5, [0.71, 0.91, 1.22]), (0.2, [0.05, 0.15, 0.25, 0.35, 0.45]),
    (3.12, [1.31, 1.58, 1.82, 2.19, 2.39, 2.56, 2.9, 3.28, 3.59]),
    (6.53, [0.29, 0.42, 0.52, 0.63, 0.8, 0.93, 1.24, 1.37, 1.48, 1.71, 2.05]),
    (6.9, [0.49, 0.66, 0.86, 1.31, 1.44, 1.65, 1.78, 2.02, 2.12, 2.6, 2.8]),
    (7.35, [0.32, 0.56, 0.69, 0.9, 1.34, 1.51, 1.71, 2.09, 2.26, 2.56, 3.21]),
    (7.69, [2.53, 3.21, 3.79, 4.1]), (7.94, [4.3, 4.44, 4.57, 4.71, 4.84, 4.98]),
    (8.55, [0.48, 0.8, 1.75, 3.93]),
    (10.04, [1.31, 1.48, 1.68, 1.85, 2.19, 2.36, 2.56]),
    (16.7, [0.45, 0.55]), (17.5, [0.42, 0.5]),
    (29.0, [0.63, 0.97, 1.37, 1.61, 1.85]), (29.3, [1.9, 2.3]), (29.6, [2.4, 2.6, 2.8]), (29.85, [2.9, 3.3, 3.5]),
    (32.1, [0.6, 0.75, 0.85, 1.0, 1.1, 1.2]), (32.4, [0.5, 0.65, 0.8, 0.95, 1.1, 1.25]),
    (32.63, [0.55, 0.7, 0.9, 1.1, 1.3, 1.48, 1.68, 1.92, 2.11]), (32.9, [0.45, 0.6, 0.8, 1.0, 1.2]),
    (33.2, [0.4, 0.55, 0.7, 0.9, 1.05, 1.25]),
    (33.49, [0.42, 0.6, 0.8, 1.0, 1.2, 1.51, 1.85, 2.22, 2.43, 2.87, 3.0, 3.29]),
    (33.8, [0.45, 0.6, 0.75, 0.95, 1.1, 1.2]),
    (34.1, [0.4, 0.55, 0.7, 0.9, 1.1, 1.41, 1.65, 1.85, 2.22, 2.43]),
    (34.5, [0.45, 0.6, 0.75, 0.9, 1.05, 1.2]), (34.8, [0.4, 0.5, 0.7, 0.85]),
    (37.84, [0.73, 1.2, 1.44, 1.54, 1.84, 2.02]),
    (44.14, [0.37]),
    (46.16, [0.76, 0.86, 0.97, 1.03, 1.14, 1.65, 1.85, 2.2, 2.39]),
    (47.1, [0.56, 0.66, 0.76, 0.86, 0.97]), (47.3, [0.62, 0.73, 0.83, 0.93, 1.03, 1.14]), (47.6, [0.69, 0.8, 0.9]),
    (52.09, [0.63]),
    (56.2, [0.69, 0.97, 1.14, 1.44, 2.12, 2.22, 2.61]),
    (58.63, [0.35, 0.46, 0.56]),
    (59.62, [0.63, 0.69, 0.76]), (59.8, [0.69, 0.8]),
    (60.2, [0.42, 0.5, 0.6, 0.7]), (60.5, [0.3, 0.4, 0.5, 0.6, 0.69]), (60.85, [0.3, 0.37, 0.46, 0.56, 0.66]),
    (61.03, [0.8]),
    (61.23, [1.24, 1.43, 1.58, 1.71, 1.78, 1.95, 2.02, 2.26, 2.36, 2.43, 2.59]),
    (62.6, [0.46, 0.52]), (63.62, [0.41, 0.56]),
    (64.68, [0.63, 0.7, 0.76, 0.83, 0.9]),
    (65.6, [0.56, 0.66, 0.76, 0.86, 0.97]), (65.9, [0.7, 0.8, 0.9]), (66.2, [0.76, 0.86, 0.97]),
    (66.5, [0.8, 0.9, 1.0, 1.1, 1.2]), (66.75, [0.83, 0.93]),
    (67.6, [0.66, 0.76, 0.86, 0.97]), (67.9, [0.8, 0.9]), (68.2, [0.97, 1.03, 1.1]),
    (69.13, [0.66, 0.8, 0.9]), (69.4, [0.97, 1.07, 1.14]), (69.2, [1.5, 1.7, 2.01]),
]

# ---------------- u2 [MPa] ----------------
u2_curves = [
    [(0.0, 0.0), (0.5, -0.01), (1.0, 0.0), (1.3, 0.02), (1.6, 0.08), (1.9, 0.14), (2.2, 0.18), (2.5, 0.12), (2.8, 0.1),
     (3.2, 0.12), (3.6, 0.14), (4.0, 0.16), (4.4, 0.2), (4.8, 0.24), (5.2, 0.28), (5.5, 0.32), (5.8, 0.38),
     (6.0, 0.4), (6.1, 0.3), (6.2, 0.15), (6.4, 0.05), (6.6, 0.1), (6.8, 0.02), (7.0, 0.15), (7.3, 0.05),
     (7.6, -0.1), (7.9, -0.2), (8.1, -0.22), (8.3, -0.1), (8.6, 0.0), (9.0, 0.05), (9.4, 0.07), (9.8, 0.1),
     (10.3, 0.12), (11.0, 0.12), (12.0, 0.13), (13.0, 0.14), (14.0, 0.16), (14.3, 0.17)],
    [(15.4, 0.17), (15.9, 0.18), (16.5, 0.2), (17.0, 0.22), (17.5, 0.22)],
    [(18.9, 0.24), (19.3, 0.26), (19.7, 0.22), (20.1, 0.24)],
    [(21.7, 0.27), (22.1, 0.3), (22.6, 0.26), (23.0, 0.28)],
    [(24.5, 0.3), (24.9, 0.33), (25.3, 0.32)],
    [(32.3, 0.35), (32.6, 0.3), (32.9, 0.25), (33.2, 0.2), (33.5, 0.15), (33.8, 0.2), (34.1, 0.25), (34.4, 0.2),
     (34.7, 0.1), (34.9, 0.05)],
    [(36.0, 0.35), (36.5, 0.36), (37.0, 0.37), (37.5, 0.38), (38.0, 0.37), (38.5, 0.39), (38.9, 0.38)],
    [(40.0, 0.4), (40.5, 0.42), (41.0, 0.41), (41.5, 0.42), (42.0, 0.43), (42.5, 0.42), (42.8, 0.4)],
    [(65.3, 0.62), (65.8, 0.63), (66.3, 0.64), (66.8, 0.63)],
]
u2_rows = [
    (15.9, [-0.07, -0.01, 0.05]), (27.0, [0.27]),
    (28.6, [-0.27, -0.22, -0.16, -0.13, -0.01, 0.13, 0.28, 0.31]),
    (29.0, [0.31, 0.4, 0.5, 0.6, 0.7, 0.8]), (29.2, [0.9, 1.0, 1.1, 1.2, 1.3, 1.4, 1.5, 1.6]),
    (29.35, [0.5, 0.7, 0.9, 1.1, 1.3, 1.5, 1.7, 1.85, 2.08]),
    (29.6, [0.35, 0.45, 0.6, 0.75, 0.9, 1.05, 1.2, 1.35, 1.5, 1.65]),
    (29.9, [0.35, 0.5, 0.65, 0.8, 0.95, 1.1, 1.25, 1.4]), (30.0, [2.34]),
    (32.2, [0.2, 0.3, 0.4, 0.5, 0.6, 0.75, 0.9, 1.0]),
    (32.6, [0.15, 0.25, 0.35, 0.45, 0.55, 0.65, 0.8, 1.0, 1.2, 1.4, 2.58, 2.87]),
    (32.9, [0.1, 0.2, 0.3, 0.4, 0.5, 0.6, 0.7, 0.9, 1.1, 1.3]),
    (33.2, [0.0, 0.1, 0.2, 0.3, 0.4, 0.5, 0.6, 0.8, 1.0, 1.2, 1.6, 1.8]),
    (33.5, [0.05, 0.15, 0.25, 0.35, 0.45, 0.55, 0.7, 0.85, 1.05, 1.25, 1.4, 1.95]),
    (33.8, [0.1, 0.2, 0.3, 0.4, 0.5, 0.6, 0.75, 0.95, 1.1]),
    (34.1, [0.2, 0.3, 0.4, 0.5, 0.6, 0.8, 1.0, 1.3, 2.02, 2.46]),
    (34.4, [0.15, 0.25, 0.35, 0.45, 0.55, 0.7, 0.9]),
    (34.65, [0.1, 0.2, 0.3, 0.4, 0.6, 0.8, 1.2, 1.56]),
    (34.9, [0.0, 0.05, 0.1, 0.15, 0.2, 0.25]),
    (36.1, [-0.04, 0.1, 0.19]), (37.8, [0.57, 0.8, 1.27, 1.79]),
    (42.75, [-0.22, -0.16, -0.1, -0.04, 0.16]),
    (44.1, [-0.01, 0.08, 0.16, 0.25, 0.34, 0.45]),
    (46.1, [-0.22, -0.16, -0.1, -0.04, 0.05, 0.13, 0.22, 0.34, 0.45, 0.57, 0.69]), (46.5, [0.77]),
    (47.1, [-0.22, -0.16, -0.07, 0.05, 0.16, 0.28, 0.4, 0.51, 0.63]), (47.5, [0.1, 0.22, 0.34, 0.45, 0.57, 0.74]),
    (48.6, [0.48]), (49.2, [0.48]), (49.9, [0.5]), (50.85, [0.48]), (51.5, [0.5]), (52.2, [0.5]), (53.1, [0.51]),
    (54.1, [0.52]), (55.0, [0.54]), (55.9, [0.52]), (56.3, [0.34, 0.5, 0.56, 0.58, 0.77]), (57.6, [0.54]),
    (58.7, [0.56]), (59.4, [0.56]), (59.9, [0.58]),
    (60.2, [0.1, 0.2, 0.3, 0.4, 0.5, 0.55]), (60.5, [0.05, 0.15, 0.25, 0.35, 0.45]),
    (60.75, [-0.17, -0.12, -0.07, -0.02, 0.05, 0.15, 0.3]),
    (61.0, [0.4, 0.5, 0.6, 0.7, 0.8, 0.86, 0.98, 1.15, 1.38, 1.56, 1.67, 1.82, 2.11, 2.37, 2.6, 2.84, 3.04]),
    (61.2, [0.6, 0.7, 0.8, 1.15, 3.42]),
    (62.7, [0.63]), (63.6, [0.6]), (64.7, [0.62]), (65.9, [0.08, 0.13, 0.18, 0.23, 0.28]),
    (68.3, [0.66, 0.77]), (69.1, [0.4, 0.51, 0.66, 0.77, 0.89, 1.18]), (69.4, [0.55, 0.6, 0.7]),
]
hydro_line = [(0.0, 0.0), (69.6, 0.683)]

# ---------------- right-hand labels ----------------
unit_codes = [("404", 0.53), ("403", 2.16), ("201", 5.05), ("400", 7.8), ("403", 13.8), ("400", 22.6),
              ("401", 27.8), ("200", 29.7), ("401", 33.4), ("403", 43.96), ("401", 60.5)]
horizon_labels = [("H10", 0.93), ("H21", 5.6), ("H22", 5.6), ("H25", 8.57), ("H59", 27.46), ("H85", 35.05),
                  ("H90", 45.8), ("H95", 70.4)]
unit_labels = [("U10_sa", 1.72), ("U21_cl", 4.68), ("U25_mix", 6.98), ("U25_cl", 8.33), ("U59_sa", 18.87),
               ("U85_mix", 29.7), ("U85_sa", 32.8), ("U90_sa", 40.5), ("U95_sa", 57.9)]

# =====================================================================
yscale = alt.Scale(domain=[0, DMAX], reverse=True, nice=False, zero=False)
FMT = ".6~g"


def make_yaxis(title, zindex):
    kw = dict(values=depth_ticks, grid=True, gridColor=GRID, gridWidth=1, ticks=False, labelPadding=8,
              labelFontSize=17, labelFont=FONT, labelColor=TXT, domainColor=TXT, domainWidth=1,
              labelFlush=False, format=FMT, zindex=zindex, labelOffset=2)
    if title:
        kw.update(title=title, titleFont=FONT, titleFontSize=20, titleFontWeight="normal", titleColor=TXT,
                  titlePadding=4)
    else:
        kw["title"] = None
    return alt.Axis(**kw)


def make_xaxis(values, zindex):
    return alt.Axis(values=values, title=None, grid=True, gridColor=GRID, gridWidth=1, ticks=False,
                    labelPadding=20, labelFontSize=17, labelFont=FONT, labelColor=TXT, domainColor=TXT,
                    domainWidth=1, labelFlush=False, format=FMT, zindex=zindex)


def curves_df(curves):
    rows = []
    for s, seg in enumerate(curves):
        for i, (d, v) in enumerate(seg):
            rows.append({"d": d, "v": v, "seg": s, "i": i})
    return pd.DataFrame(rows)


def rows_df(rowlist):
    return pd.DataFrame([{"d": d, "v": v} for d, vals in rowlist for v in vals])


DUMMY = pd.DataFrame({"k": [0]})

# title pieces: (text, font size, is_sub, width estimate, gap before)
TITLES = {
    "sbt": [("SBT [-]", 20, False, 62.2, 0)],
    "ic": [("I", 20, False, 5.6, 0), ("c", 14, True, 7.0, 0), ("[-]", 20, False, 17.8, 5.6)],
    "qc": [("q", 20, False, 11.1, 0), ("c", 14, True, 7.0, 0), ("[MPa]", 20, False, 52.2, 5.6)],
    "fs": [("f", 20, False, 5.6, 0), ("s", 14, True, 7.0, 0), ("[MPa]", 20, False, 52.2, 5.6)],
    "rf": [("R", 20, False, 14.4, 0), ("f", 14, True, 3.9, 0), ("[%]", 20, False, 28.9, 5.6)],
    "u2": [("u", 20, False, 11.1, 0), ("2", 14, True, 7.8, 0), ("[MPa]", 20, False, 52.2, 5.6)],
}


def title_layers(key):
    pieces = TITLES[key]
    total = sum(p[3] + p[4] for p in pieces)
    x = W / 2 - total / 2
    out = []
    for text, size, sub, wid, gap in pieces:
        x += gap
        out.append(alt.Chart(DUMMY).mark_text(text=text, font=FONT, fontSize=size, color=TXT, align="left",
                                               baseline="alphabetic")
                   .encode(x=alt.value(x), y=alt.value(H + (68 if sub else 61))))
        x += wid
    return out


def panel(key, xdom, xticks, data_layers_fn, ytitle=None, zindex=0, extra_fn=None):
    xs = alt.Scale(domain=xdom, nice=False, zero=False)
    xa = make_xaxis(xticks, zindex)
    ya = make_yaxis(ytitle, zindex)

    def X(f="v"):
        return alt.X(f"{f}:Q", scale=xs, axis=xa)

    def Y():
        return alt.Y("d:Q", scale=yscale, axis=ya)

    layers = data_layers_fn(X, Y)
    specs = [
        (green_depths, dict(color="#00ff00", strokeWidth=1.5, strokeDash=[7, 5], opacity=0.6)),
        (magenta_depths, dict(color="#ff00ff", strokeWidth=1.5, strokeDash=[7, 5], opacity=0.6)),
        (salmon_depths, dict(color="#f3786c", strokeWidth=2.5)),
        (red_depths, dict(color="#ff0000", strokeWidth=1.2)),
    ]
    for vals, kw in specs:
        layers.append(alt.Chart(pd.DataFrame({"d": vals})).mark_rule(**kw).encode(y=Y()))
    layers.append(alt.Chart(pd.DataFrame({"v": xticks})).mark_rule(color=TXT, strokeWidth=1)
                  .encode(x=X(), y=alt.value(H), y2=alt.value(H - 9)))
    layers.append(alt.Chart(pd.DataFrame({"d": depth_ticks})).mark_rule(color=TXT, strokeWidth=1)
                  .encode(y=Y(), x=alt.value(0), x2=alt.value(9)))
    if extra_fn is not None:
        layers += extra_fn(X, Y)
    layers += title_layers(key)
    return alt.layer(*layers).properties(width=W, height=H)


def scatter_fn(curves, rowlist, extra=None):
    def fn(X, Y):
        cdf = curves_df(curves)
        rdf = rows_df(rowlist)
        out = [
            alt.Chart(cdf).mark_line(color=BLUE, strokeWidth=6.5, strokeCap="round", strokeJoin="round")
            .encode(x=X(), y=Y(), detail="seg:N", order="i:Q"),
            alt.Chart(cdf).mark_circle(color=BLUE, size=34, opacity=1).encode(x=X(), y=Y()),
            alt.Chart(rdf).mark_circle(color=BLUE, size=34, opacity=1).encode(x=X(), y=Y()),
        ]
        if extra is not None:
            out += extra(X, Y)
        return out
    return fn


def sbt_fn(X, Y):
    offs = {"b": -0.16, "r": 0.0, "y": 0.15}
    recs = []
    for s, lst in (("b", sbt_blue), ("r", sbt_red), ("y", sbt_yellow)):
        for sbt, d0, d1, a in lst:
            recs.append({"s": s, "v": sbt + offs[s], "d": d0, "d1": d1, "a": a})
    df = pd.DataFrame(recs)
    cs = alt.Scale(domain=["b", "r", "y"], range=["#0072BD", "#D95319", "#EDB120"])
    runs = df[df["d1"] > df["d"]]
    pts = df[df["d1"] <= df["d"]]
    return [
        alt.Chart(runs).mark_rule(strokeWidth=7, strokeCap="round")
        .encode(x=X(), y=Y(), y2="d1:Q", color=alt.Color("s:N", scale=cs, legend=None),
                opacity=alt.Opacity("a:Q", scale=None)),
        alt.Chart(pts).mark_circle(size=40)
        .encode(x=X(), y=Y(), color=alt.Color("s:N", scale=cs, legend=None),
                opacity=alt.Opacity("a:Q", scale=None)),
    ]


def ic_fn(X, Y):
    bands = pd.DataFrame({"v": ic_band_lo, "hi": ic_band_hi, "c": ic_band_col})
    ldf = curves_df(ic_segs)
    return [
        alt.Chart(bands).mark_rect().encode(x=X(), x2="hi:Q", y=alt.value(0), y2=alt.value(H),
                                            color=alt.Color("c:N", scale=None)),
        alt.Chart(ldf).mark_line(color=BLUE, strokeWidth=1.2)
        .encode(x=X(), y=Y(), detail="seg:N", order="i:Q"),
    ]


def u2_extra(X, Y):
    hdf = pd.DataFrame({"d": [p[0] for p in hydro_line], "v": [p[1] for p in hydro_line]})
    return [alt.Chart(hdf).mark_line(color="#333333", strokeWidth=1.2).encode(x=X(), y=Y())]


def label_fn(X, Y):
    out = []
    for lst, px in ((unit_codes, 245), (horizon_labels, 306), (unit_labels, 357)):
        df = pd.DataFrame({"t": [a for a, _ in lst], "d": [b for _, b in lst]})
        out.append(alt.Chart(df).mark_text(align="left", baseline="middle", font=FONT, fontSize=17,
                                           color="#111111")
                   .encode(x=alt.value(px), y=Y(), text="t:N"))
    return out


p1 = panel("sbt", [0.5, 7.5], [1, 2, 3, 4, 5, 6, 7], sbt_fn, ytitle="Depth [m]")
p2 = panel("ic", [1, 4], [1, 2, 3, 4], ic_fn, zindex=1)
p3 = panel("qc", [0, 80], [0, 20, 40, 60, 80], scatter_fn(qc_curves, qc_rows))
p4 = panel("fs", [0, 0.79], [0, 0.2, 0.4, 0.6], scatter_fn(fs_curves, fs_rows))
p5 = panel("rf", [0, 4.98], [0, 2, 4], scatter_fn(rf_curves, rf_rows))
p6 = panel("u2", [-0.25, 4], [0, 2, 4], scatter_fn(u2_curves, u2_rows, u2_extra), extra_fn=label_fn)

chart = (
    alt.hconcat(p1, p2, p3, p4, p5, p6, spacing=78.5, bounds="flush")
    .properties(padding={"left": 3, "top": 0, "right": 5, "bottom": 5}, background="white")
    .configure_view(strokeWidth=0)
)

chart.save("out.html", embed_options={"renderer": "svg", "actions": False})
